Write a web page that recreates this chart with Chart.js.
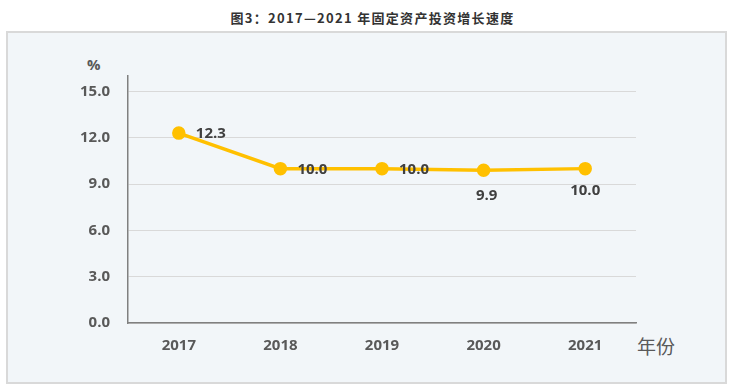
<!DOCTYPE html>
<html><head><meta charset="utf-8">
<script src="https://cdn.jsdelivr.net/npm/chart.js@4/dist/chart.umd.min.js"></script>
<style>
html,body{margin:0;padding:0;background:#fff;width:745px;height:391px;overflow:hidden;font-family:"Open Sans","Noto Sans CJK SC",sans-serif;}
#title{position:absolute;left:0;top:8px;width:745px;text-align:center;font:bold 13px "Noto Sans CJK SC",sans-serif;color:#333;letter-spacing:1.3px;}
#box{position:absolute;left:6px;top:31px;width:717px;height:349px;background:#f2f6f9;border:2px solid #d9d9d9;}
#pct{position:absolute;left:87px;top:54px;font:bold 15px "Open Sans",sans-serif;color:#595959;}
#unit{position:absolute;left:637px;top:332px;font:19px "Noto Sans CJK SC",sans-serif;color:#595959;}
canvas{position:absolute;left:0;top:0;}
</style></head>
<body>
<div id="title">图3：2017—2021 年固定资产投资增长速度</div>
<div id="box"></div>
<div id="pct">%</div>
<div id="unit">年份</div>
<canvas id="c" width="745" height="391"></canvas>
<script>
const categories = ["2017","2018","2019","2020","2021"];
const growth = [12.3, 10.0, 10.0, 9.9, 10.0];
const yTicks = [0, 3, 6, 9, 12, 15];
const labelPos = ["right","right","right","below","below"];

const labelPlugin = {
  id:'vlabels',
  afterDatasetsDraw(chart){
    const ctx = chart.ctx;
    const meta = chart.getDatasetMeta(0);
    ctx.save();
    ctx.font = 'bold 15px "Open Sans", sans-serif';
    ctx.fillStyle = '#404040';
    ctx.textBaseline = 'middle';
    meta.data.forEach((pt,i)=>{
      const txt = growth[i].toFixed(1);
      if(labelPos[i]==='right'){
        ctx.textAlign='left';
        ctx.fillText(txt, pt.x+17, pt.y+1);
      } else {
        ctx.textAlign='center';
        ctx.fillText(txt, pt.x+ (i===3?3:0), pt.y+(i===3?26:22));
      }
    });
    ctx.restore();
  }
};

new Chart(document.getElementById('c'), {
  type:'line',
  data:{labels:categories, datasets:[{data:growth, borderColor:'#ffc000', backgroundColor:'#ffc000', borderWidth:3.5, pointRadius:5, pointHoverRadius:5, tension:0}]},
  options:{
    responsive:false, animation:false,
    layout:{padding:{left:0,right:109,top:76,bottom:0}},
    plugins:{legend:{display:false}, tooltip:{enabled:false}},
    scales:{
      y:{min:0,max:16,
        afterBuildTicks(s){ s.ticks = yTicks.map(v=>({value:v})); },
        afterFit(s){ s.width = 128; },
        ticks:{callback:v=>Number(v).toFixed(1), color:'#595959', font:{family:'"Open Sans", sans-serif', size:15, weight:'bold'}, padding:18},
        grid:{color:'#d9d9d9', drawTicks:false, lineWidth:1},
        border:{color:'#808080', width:1.5}
      },
      x:{offset:true,
        afterFit(s){ s.height = 391-323; },
        ticks:{color:'#595959', font:{family:'"Open Sans", sans-serif', size:15, weight:'bold'}, padding:14},
        grid:{display:false, drawTicks:false},
        border:{color:'#808080', width:1.5}
      }
    }
  },
  plugins:[labelPlugin]
});
</script>
</body></html>
